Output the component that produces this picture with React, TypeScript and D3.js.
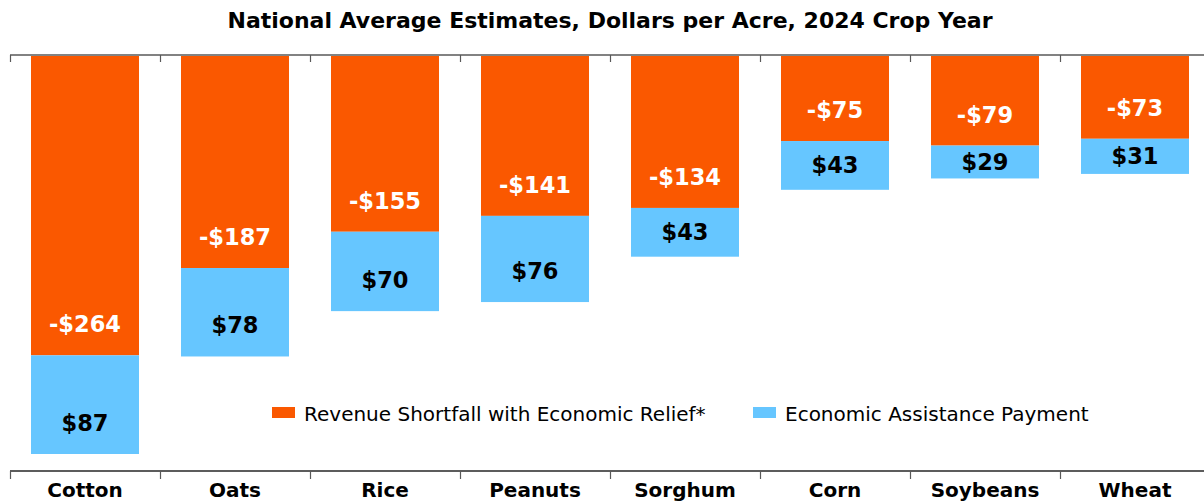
import React from "react";
import * as d3 from "d3";

const categories = ["Cotton", "Oats", "Rice", "Peanuts", "Sorghum", "Corn", "Soybeans", "Wheat"];
const shortfall = [264, 187, 155, 141, 134, 75, 79, 73];
const assistance = [87, 78, 70, 76, 43, 43, 29, 31];
const seriesNames = ["Revenue Shortfall with Economic Relief*", "Economic Assistance Payment"];
const title = "National Average Estimates, Dollars per Acre, 2024 Crop Year";

const ORANGE = "#FA5800";
const BLUE = "#66C6FF";
const FONT = "'DejaVu Sans', Verdana, sans-serif";

export default function App() {
  const W = 1204, H = 501;
  const top = 56, bottom = 471;
  const x = d3.scaleBand<string>().domain(categories).range([10, 1210]).paddingInner(0.28).paddingOuter(0.14);
  const band = d3.scaleBand<string>().domain(categories).range([10, 1210]);
  const y = d3.scaleLinear().domain([0, 366]).range([top, bottom]);

  const labelPos = (start: number, end: number) => {
    const len = y(end) - y(start);
    return y(end) - Math.min(31, len / 2);
  };

  return (
    <svg width={W} height={H} style={{ position: "absolute", left: 0, top: 0 }} fontFamily={FONT}>
      <text x={610} y={28} textAnchor="middle" fontSize={22} fontWeight="bold" fill="#000">{title}</text>
      {categories.map((c, i) => {
        const s = shortfall[i];
        const a = assistance[i];
        const bx = x(c)!;
        const bw = x.bandwidth();
        const cx = bx + bw / 2;
        return (
          <g key={c}>
            <rect x={bx} y={y(0)} width={bw} height={y(s) - y(0)} fill={ORANGE} />
            <rect x={bx} y={y(s)} width={bw} height={y(s + a) - y(s)} fill={BLUE} />
            <text x={cx} y={labelPos(0, s)} textAnchor="middle" dominantBaseline="central" fontSize={22.5} fontWeight="bold" fill="#fff">{`-$${s}`}</text>
            <text x={cx} y={labelPos(s, s + a)} textAnchor="middle" dominantBaseline="central" fontSize={22.5} fontWeight="bold" fill="#000">{`$${a}`}</text>
          </g>
        );
      })}
      {/* top axis */}
      <line x1={10} x2={W} y1={55} y2={55} stroke="#595959" strokeWidth={1.5} />
      {categories.map((c) => (
        <line key={"tt" + c} x1={band(c)! + 0.5} x2={band(c)! + 0.5} y1={55} y2={62} stroke="#595959" strokeWidth={1.2} />
      ))}
      {/* bottom axis */}
      <line x1={10} x2={W} y1={bottom} y2={bottom} stroke="#262626" strokeWidth={1.5} />
      {categories.map((c) => (
        <g key={"bt" + c}>
          <line x1={band(c)! + 0.5} x2={band(c)! + 0.5} y1={bottom} y2={479} stroke="#595959" strokeWidth={1.2} />
          <text x={band(c)! + band.bandwidth() / 2} y={497} textAnchor="middle" fontSize={20} fontWeight="bold" fill="#000">{c}</text>
        </g>
      ))}
      {/* legend */}
      <rect x={272} y={407} width={23} height={11} fill={ORANGE} />
      <text x={304} y={421} fontSize={20} fill="#000">{seriesNames[0]}</text>
      <rect x={753} y={407} width={23} height={11} fill={BLUE} />
      <text x={785} y={421} fontSize={20} fill="#000">{seriesNames[1]}</text>
    </svg>
  );
}
